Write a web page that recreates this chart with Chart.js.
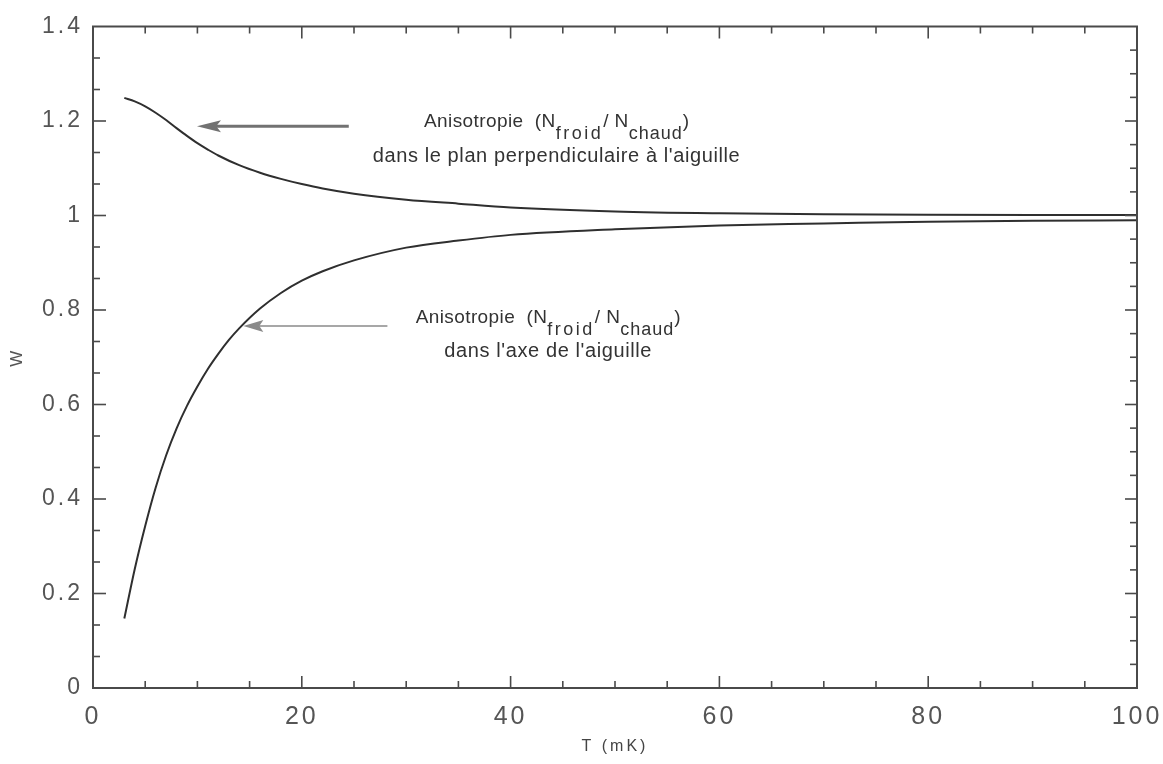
<!DOCTYPE html>
<html><head><meta charset="utf-8">
<script src="https://cdn.jsdelivr.net/npm/chart.js@4.4.1/dist/chart.umd.min.js"></script>
<style>html,body{margin:0;padding:0;background:#fff}canvas{display:block}</style>
</head><body>
<canvas id="c" width="1163" height="764"></canvas>
<script>
// ---- data ----
const T_PERP = [3,4,5,6,7,8,9,10,11,12,14,16,18,20,22,25,30,35,40,50,60,70,80,90,100];
const W_PERP = [1.249,1.2415,1.231,1.2175,1.202,1.185,1.1685,1.153,1.1395,1.127,1.1065,1.0905,1.0775,1.0665,1.057,1.046,1.0335,1.025,1.017,1.0085,1.0045,1.0025,1.0015,1.0010,1.0010];
const T_AXE = [3,4,5,6,7,8,9,10,11,12,13,14,16,18,20,22,25,30,35,40,50,60,70,80,90,100];
const W_AXE = [0.147,0.252,0.343,0.424,0.492,0.549,0.597,0.638,0.675,0.707,0.736,0.761,0.803,0.836,0.862,0.882,0.905,0.932,0.947,0.959,0.971,0.979,0.983,0.987,0.989,0.990];

const X_TICKS = [0,20,40,60,80,100];
const X_LABELS = ['0','20','40','60','80','100'];
const Y_TICKS = [0,0.2,0.4,0.6,0.8,1,1.2,1.4];
const Y_LABELS = ['0','0.2','0.4','0.6','0.8','1','1.2','1.4'];

const X_TITLE = 'T (mK)';
const Y_TITLE = 'W';

// annotation anchors in data units
const ANN1 = {t: 44.4, w1: 1.187, w2: 1.113, line2: 'dans le plan perpendiculaire à l\'aiguille'};
const ANN2 = {t: 43.6, w1: 0.772, w2: 0.700, line2: 'dans l\'axe de l\'aiguille'};
const ARROW1 = {from: 24.5, to: 9.96, w: 1.189};
const ARROW2 = {from: 28.2, to: 14.4, w: 0.766};

const FONT = '"Liberation Sans", Arial, Helvetica, sans-serif';
const AXIS_COLOR = '#4a4a4a';

function seg(ctx, x1, y1, x2, y2) { ctx.beginPath(); ctx.moveTo(x1, y1); ctx.lineTo(x2, y2); ctx.stroke(); }

function arrow(ctx, xTail, xTip, y, headLen, headHalf, width, color) {
  ctx.strokeStyle = color; ctx.lineWidth = width;
  seg(ctx, xTail, y, xTip + headLen * 0.7, y);
  ctx.fillStyle = color;
  ctx.beginPath();
  ctx.moveTo(xTip, y);
  ctx.lineTo(xTip + headLen, y - headHalf);
  ctx.lineTo(xTip + headLen * 0.8, y);
  ctx.lineTo(xTip + headLen, y + headHalf);
  ctx.closePath(); ctx.fill();
}

function richLine(ctx, parts, cx, baseY) {
  let total = 0;
  for (const p of parts) {
    ctx.font = p.size + 'px ' + FONT; ctx.letterSpacing = (p.ls || 0) + 'px';
    p.w = ctx.measureText(p.t).width; total += p.w;
  }
  let x = cx - total / 2;
  ctx.textAlign = 'left'; ctx.textBaseline = 'alphabetic';
  for (const p of parts) {
    ctx.font = p.size + 'px ' + FONT; ctx.letterSpacing = (p.ls || 0) + 'px';
    ctx.fillText(p.t, x, baseY + (p.dy || 0));
    x += p.w;
  }
}

function ratioParts() {
  return [
    {t: 'Anisotropie  (N', size: 19, ls: 0.4},
    {t: 'froid', size: 18, ls: 2.5, dy: 12},
    {t: '/ N', size: 19, ls: 0.4},
    {t: 'chaud', size: 18, ls: 1, dy: 12},
    {t: ')', size: 19, ls: 0}
  ];
}

const framePlugin = {
  id: 'frame',
  beforeDraw(chart) { chart.ctx.letterSpacing = '3px'; },
  afterDraw(chart) {
    const {ctx, chartArea: a, scales: {x: xs, y: ys}} = chart;
    ctx.save();
    ctx.letterSpacing = '0px';
    ctx.strokeStyle = AXIS_COLOR; ctx.lineWidth = 2;
    ctx.strokeRect(a.left, a.top, a.right - a.left, a.bottom - a.top);
    ctx.lineWidth = 1.6;
    // top / bottom ticks every 5, major every 20
    for (let v = 5; v < 100; v += 5) {
      const px = xs.getPixelForValue(v);
      const L = (v % 20 === 0) ? 12 : 7;
      seg(ctx, px, a.bottom, px, a.bottom - L);
      seg(ctx, px, a.top, px, a.top + L);
    }
    // left ticks: 2 minor between majors
    for (let i = 1; i < 21; i++) {
      const py = ys.getPixelForValue(i * 0.2 / 3);
      const L = (i % 3 === 0) ? 13 : 7;
      seg(ctx, a.left, py, a.left + L, py);
    }
    // right ticks: every 0.05
    for (let i = 1; i < 28; i++) {
      const py = ys.getPixelForValue(i * 0.05);
      const L = (i % 4 === 0) ? 12 : 7;
      seg(ctx, a.right, py, a.right - L, py);
    }
    // arrows
    arrow(ctx, xs.getPixelForValue(ARROW1.from), xs.getPixelForValue(ARROW1.to), ys.getPixelForValue(ARROW1.w), 24, 6, 3, '#727272');
    arrow(ctx, xs.getPixelForValue(ARROW2.from), xs.getPixelForValue(ARROW2.to), ys.getPixelForValue(ARROW2.w), 20, 6, 1.5, '#8a8a8a');
    // annotations
    ctx.fillStyle = '#333';
    for (const ann of [ANN1, ANN2]) {
      const cx = xs.getPixelForValue(ann.t);
      richLine(ctx, ratioParts(), cx, ys.getPixelForValue(ann.w1));
      richLine(ctx, [{t: ann.line2, size: 20, ls: 0.6}], cx, ys.getPixelForValue(ann.w2));
    }
    ctx.restore();
  }
};

new Chart(document.getElementById('c'), {
  type: 'line',
  data: {
    datasets: [
      {data: T_PERP.map((t, i) => ({x: t, y: W_PERP[i]})), borderColor: '#2f2f2f', borderWidth: 2, pointRadius: 0, cubicInterpolationMode: 'monotone', fill: false},
      {data: T_AXE.map((t, i) => ({x: t, y: W_AXE[i]})), borderColor: '#2f2f2f', borderWidth: 2, pointRadius: 0, cubicInterpolationMode: 'monotone', fill: false}
    ]
  },
  options: {
    responsive: false, animation: false,
    layout: {padding: {left: 0, right: 26, top: 26.5, bottom: 0}},
    plugins: {legend: {display: false}, tooltip: {enabled: false}},
    scales: {
      x: {
        type: 'linear', min: 0, max: 100,
        afterBuildTicks: s => { s.ticks = X_TICKS.map(v => ({value: v})); },
        ticks: {callback: (v) => X_LABELS[X_TICKS.indexOf(v)], font: {size: 25, family: FONT}, color: '#555', padding: 14, maxRotation: 0, autoSkip: false},
        grid: {display: false, drawTicks: false},
        border: {display: false},
        title: {display: true, text: X_TITLE, font: {size: 16, family: FONT}, color: '#444', padding: {top: 8, bottom: 8}},
        afterFit: s => { s.height = 76; s.paddingLeft = 0; s.paddingRight = 0; }
      },
      y: {
        type: 'linear', min: 0, max: 1.4,
        afterBuildTicks: s => { s.ticks = Y_TICKS.map(v => ({value: v})); },
        ticks: {callback: (v) => Y_LABELS[Y_TICKS.findIndex(t => Math.abs(t - v) < 1e-9)], font: {size: 23, family: FONT}, color: '#555', padding: 10},
        grid: {display: false, drawTicks: false},
        border: {display: false},
        title: {display: true, text: Y_TITLE, font: {size: 17, family: FONT}, color: '#555', padding: {top: 7, bottom: 7}},
        afterFit: s => { s.width = 93; s.paddingTop = 0; s.paddingBottom = 0; }
      }
    }
  },
  plugins: [framePlugin]
});
</script>
</body></html>
